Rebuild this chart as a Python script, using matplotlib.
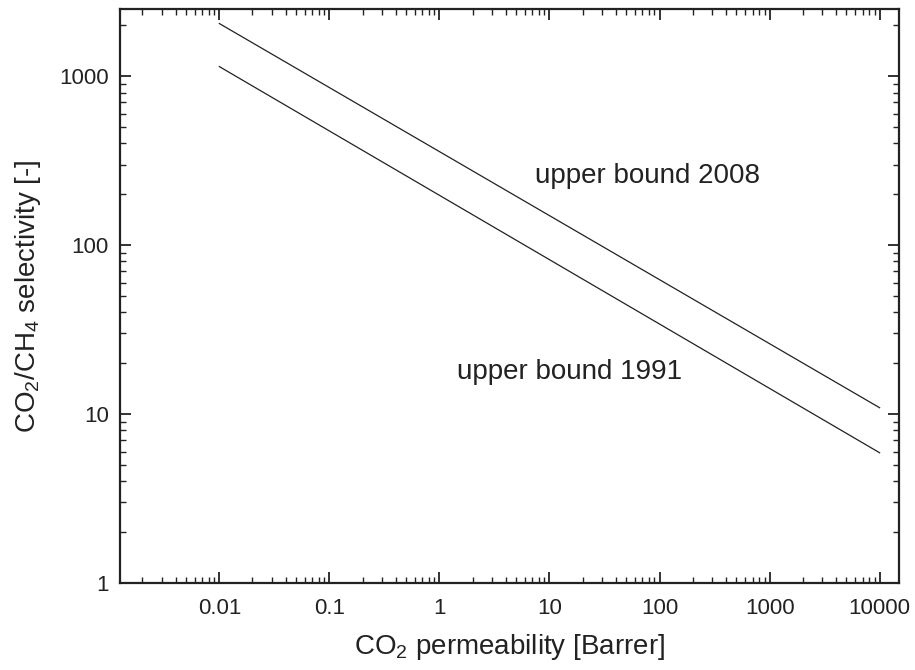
import matplotlib
matplotlib.use('Agg')
import matplotlib.pyplot as plt
from matplotlib.ticker import LogLocator, FixedLocator, FixedFormatter, NullFormatter

plt.rcParams['font.family'] = ['Liberation Sans', 'DejaVu Sans']
plt.rcParams['mathtext.fontset'] = 'custom'
plt.rcParams['mathtext.rm'] = 'Liberation Sans'
plt.rcParams['mathtext.it'] = 'Liberation Sans'

# CO2 permeability [Barrer] at the line ends
perm = [0.01, 10000]
# Robeson upper bounds, CO2/CH4 selectivity
sel_2008 = [2050, 10.9]
sel_1991 = [1140, 5.9]

x_ticks = [0.01, 0.1, 1, 10, 100, 1000, 10000]
x_labels = ['0.01', '0.1', '1', '10', '100', '1000', '10000']
y_ticks = [1, 10, 100, 1000]
y_labels = ['1', '10', '100', '1000']

fig = plt.figure(figsize=(9.15, 6.7), dpi=100)
ax = fig.add_axes([0.1311, 0.1299, 0.9825 - 0.1311, 0.9866 - 0.1299])

ax.plot(perm, sel_2008, color='#222222', lw=0.9)
ax.plot(perm, sel_1991, color='#222222', lw=0.9)

ax.set_xscale('log')
ax.set_yscale('log')
ax.set_xlim(0.00125, 15000)
ax.set_ylim(1, 2500)

ax.xaxis.set_major_locator(FixedLocator(x_ticks))
ax.xaxis.set_major_formatter(FixedFormatter(x_labels))
ax.yaxis.set_major_locator(FixedLocator(y_ticks))
ax.yaxis.set_major_formatter(FixedFormatter(y_labels))
ax.xaxis.set_minor_locator(LogLocator(base=10, subs=range(2, 10), numticks=20))
ax.yaxis.set_minor_locator(LogLocator(base=10, subs=range(2, 10), numticks=20))
ax.xaxis.set_minor_formatter(NullFormatter())
ax.yaxis.set_minor_formatter(NullFormatter())

ax.tick_params(which='both', direction='in', top=True, right=True, colors='#222222',
               labelcolor='#222222')
ax.tick_params(which='major', length=8, width=1.3, labelsize=16)
ax.tick_params(which='minor', length=4, width=1.0)
ax.tick_params(axis='x', which='major', pad=11)
ax.tick_params(axis='y', which='major', pad=8)
for s in ax.spines.values():
    s.set_linewidth(1.6)
    s.set_color('#222222')

ax.set_xlabel('CO$_2$ permeability [Barrer]', fontsize=20, color='#222222', labelpad=9)
ax.set_ylabel('CO$_2$/CH$_4$ selectivity [-]', fontsize=20, color='#222222', labelpad=12)

ax.text(7.4, 256, 'upper bound 2008', fontsize=20, color='#222222', va='center')
ax.text(1.43, 17.7, 'upper bound 1991', fontsize=20, color='#222222', va='center')

fig.savefig('out.png', dpi=100)
